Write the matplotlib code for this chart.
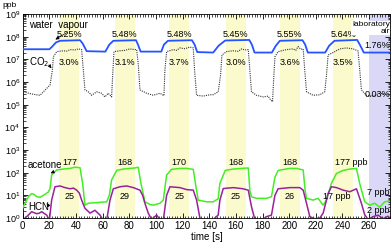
import matplotlib
matplotlib.use('Agg')
import matplotlib.pyplot as plt
from matplotlib.ticker import MultipleLocator, FixedLocator, NullFormatter

plt.rcParams['font.family'] = ['Liberation Sans', 'DejaVu Sans']
plt.rcParams['font.size'] = 7

# ---- data (time in s, concentrations in ppb) ----
water_t = [0, 20, 22, 25, 28, 43, 45, 48, 62, 65, 68, 85, 86.5, 88.5, 104, 106, 109, 127, 129, 131,
           143, 147, 152, 170, 172, 174, 187, 190, 193, 210, 212, 214, 227, 230, 234, 251, 253, 256, 277]
water_v = [2.8e7, 2.8e7, 3.6e7, 5.6e7, 6.6e7, 7.0e7, 5.0e7, 2.3e7, 2.2e7, 4.5e7, 6.6e7, 7.0e7, 4.5e7, 2.2e7,
           2.2e7, 4.5e7, 6.6e7, 7.0e7, 4.5e7, 2.1e7, 2.0e7, 4.0e7, 6.8e7, 7.2e7, 4.5e7, 2.0e7, 2.0e7, 4.0e7,
           6.6e7, 7.0e7, 4.5e7, 2.0e7, 2.0e7, 4.0e7, 6.6e7, 7.2e7, 4.5e7, 2.0e7, 2.0e7]

co2_t = [0.5, 5.5, 9.2, 13, 16.7, 20.5, 22.2, 23, 25.5, 30.5, 33, 35.5, 39.2, 41.7, 44.2, 45.5, 46.7,
         49.2, 51.7, 55.5, 59.2, 61.7, 64.2, 66.7, 67.5, 68.5, 73, 76.7, 80.5, 83, 85.5, 86.7, 88,
         93, 98, 103, 106, 106.7, 108, 113, 115.5, 118, 121.7, 125.5, 128, 129, 130.5,
         135.5, 140.5, 143, 146.7, 148.5, 149.5, 153, 158, 161.7, 164.3, 166.7, 169.3, 170.5, 171.7,
         175.5, 180.5, 184.2, 185.5, 187.5, 188.5, 189.3, 191.7, 198, 203, 205, 206.7, 208.7, 210.5, 211.7, 213,
         218, 223, 226.7, 228, 229.2, 233, 238, 243, 248, 251.7, 253, 254.2,
         258, 263, 268, 273, 276.7]
co2_v = [3.7e5, 3.1e5, 2.8e5, 2.6e5, 4.4e5, 7.4e5, 3.2e6, 1.3e7, 2.2e7, 2.4e7, 2.3e7, 2.7e7, 2.6e7, 2.9e7, 2.7e7, 3.2e6, 4.5e5,
         3.7e5, 2.6e5, 3.7e5, 3.2e5, 2.2e5, 3.2e5, 2.2e5, 2.0e6, 2.2e7, 2.4e7, 2.5e7, 2.9e7, 2.75e7, 2.7e7, 6.3e6, 4.5e5,
         3.2e5, 2.6e5, 3.2e5, 2.5e5, 3.2e6, 2.2e7, 2.7e7, 2.5e7, 3.2e7, 2.95e7, 3.5e7, 3.2e7, 3.2e6, 2.6e5,
         2.4e5, 2.75e5, 2.75e5, 3.7e5, 2.0e6, 1.55e7, 2.2e7, 2.4e7, 2.25e7, 2.9e7, 2.6e7, 2.7e7, 3.2e6, 3.7e5,
         2.6e5, 2.2e5, 2.4e5, 1.8e5, 1.35e5, 2.0e6, 1.3e7, 2.2e7, 2.7e7, 2.9e7, 2.5e7, 3.7e7, 2.8e7, 2.9e7, 3.2e6, 3.7e5,
         2.6e5, 2.75e5, 3.7e5, 2.0e6, 1.55e7, 2.0e7, 2.9e7, 3.2e7, 2.9e7, 2.35e7, 3.2e6, 4.5e5,
         2.6e5, 2.4e5, 3.2e5, 2.8e5, 2.6e5]

acetone_t = [0, 4.2, 6.7, 8.5, 10.5, 13, 15.5, 19.2, 20.5, 21.7, 25.5, 30.5, 35.5, 39.2, 43, 45, 46.7,
             49.2, 55.5, 59.2, 63, 65, 66.7, 70.5, 75.5, 80.5, 84.2, 86.7, 88.5, 91.7,
             95.5, 98, 103, 105.5, 108, 111.7, 118, 123, 128, 129.7, 131.7,
             138, 143, 146.7, 148, 152, 158, 164.3, 169.3, 170.5, 171.7,
             175.5, 183, 186.7, 189.3, 191.7, 200.5, 205.5, 210.5, 212, 213,
             218, 221.7, 225.5, 228, 231.7, 235.5, 240.5, 245.5, 250.5, 253, 256.7,
             260.5, 264.2, 268, 271.7, 276.7]
acetone_v = [2.8, 8.7, 12, 11, 8.7, 8.3, 10, 14, 20, 79, 132, 145, 155, 174, 166, 32, 3.7,
             4.5, 4.8, 5.0, 5.2, 10, 48, 126, 145, 155, 162, 174, 40, 5.2,
             4.0, 3.7, 4.5, 6.2, 79, 141, 155, 155, 141, 32, 6.2,
             5.2, 5.2, 7.1, 34, 126, 145, 155, 162, 16, 8.7,
             7.4, 7.4, 8.7, 63, 126, 155, 155, 132, 16, 7.4,
             6.2, 7.4, 3.7, 6.2, 34, 93, 126, 145, 155, 32, 5.2,
             3.7, 4.5, 3.0, 5.2, 5.8]

hcn_t = [0, 4.2, 6.7, 10.5, 12.5, 14.2, 18, 20, 21.7, 24.2, 28, 31.7, 35.5, 38, 40.5, 42.5, 44.2, 46.7,
         50.5, 54.2, 58, 60.5, 63, 65.5, 68, 73, 78, 83, 88, 90, 91.7, 94.2, 96.7,
         100.5, 103, 105.5, 108, 110.5, 118, 123, 128, 130.5, 133, 136,
         143, 146.7, 148, 150.5, 158, 165.5, 169.3, 171.7, 174.2, 179.2, 183, 186.7, 189.3, 191.7,
         200.5, 208, 210.5, 213, 215.5, 219.2, 223, 225.5, 229.2, 231.7, 235.5, 240.5, 245.5, 250.5,
         254.2, 256.7, 259.2, 263, 266.7, 270.5, 274.2, 276.7]
hcn_v = [0.8, 1.35, 1.9, 1.55, 1.65, 1.9, 1.35, 0.8, 6.2, 24, 26, 22, 19.5, 21, 17, 12.6, 6.2, 2.7,
         1.65, 2.2, 1.35, 0.8, 0.8, 6.2, 19.5, 24, 26, 22, 17, 10, 4.5, 1.65, 0.87,
         1.35, 0.87, 0.8, 10, 24, 22, 18, 17, 6.2, 1.0, 0.8,
         0.87, 1.35, 6.2, 20, 22, 19.5, 17, 3.2, 0.87, 0.8, 1.15, 1.35, 10, 19.5,
         22, 22, 17, 4.5, 1.15, 0.93, 1.0, 1.65, 12, 24, 22, 17, 14.5, 19.5,
         4.5, 1.4, 0.87, 1.15, 1.35, 0.93, 1.2, 0.87]

breath_start = [27.5, 69, 110, 152.5, 193, 233]
breath_width = 15
lab_start = 260

water_labels = ['5.25%', '5.48%', '5.48%', '5.45%', '5.55%', '5.64%']
co2_labels = ['3.0%', '3.1%', '3.7%', '3.0%', '3.6%', '3.5%']
acetone_labels = ['177', '168', '170', '168', '168', '177 ppb']
hcn_labels = ['25', '29', '25', '25', '26', '17 ppb']
decades = [10.0 ** k for k in range(10)]
decade_minors = [m * d for d in decades[:-1] for m in range(2, 10)]

fig = plt.figure(figsize=(3.92, 2.42), dpi=100)
ax = fig.add_axes([0.058, 0.099, 0.938, 0.843])

for s in breath_start:
    ax.axvspan(s, s + breath_width, color='#fafacd', lw=0, zorder=0)
ax.axvspan(lab_start, 277, color='#d9d9f7', lw=0, zorder=0)

ax.plot(water_t, water_v, color='#2454ff', lw=1.3, zorder=3)
ax.plot(co2_t, co2_v, color='#333333', lw=0.8, ls=(0, (1, 1)), zorder=3)
ax.plot(acetone_t, acetone_v, color='#44ee22', lw=1.1, zorder=3)
ax.plot(hcn_t, hcn_v, color='#992299', lw=1.1, zorder=3)

ax.set_yscale('log')
ax.set_xlim(0, 276)
ax.set_ylim(1, 1e9)
ax.set_yticks(decades)
ax.yaxis.set_minor_locator(FixedLocator(decade_minors))
ax.yaxis.set_minor_formatter(NullFormatter())
ax.xaxis.set_major_locator(MultipleLocator(20))
ax.xaxis.set_minor_locator(MultipleLocator(2))
ax.tick_params(which='both', direction='in', top=True, right=True, labelsize=7, pad=2)
ax.tick_params(axis='y', labelsize=6.5)
ax.tick_params(which='major', length=3.5, width=0.6)
ax.tick_params(which='minor', length=1.8, width=0.5)
for sp in ax.spines.values():
    sp.set_linewidth(0.6)
ax.set_xlabel('time [s]', fontsize=7, labelpad=1)
fig.text(0.005, 0.99, 'ppb', fontsize=6, va='top', ha='left')

for i, s in enumerate(breath_start):
    c = s + breath_width / 2
    ax.text(c, 1.2e8, water_labels[i], ha='center', va='center', fontsize=6.5)
    ax.text(c, 7.6e6, co2_labels[i], ha='center', va='center', fontsize=6.5)
    if i < 5:
        ax.text(c, 270, acetone_labels[i], ha='center', va='center', fontsize=6.5)
        ax.text(c, 9.3, hcn_labels[i], ha='center', va='center', fontsize=6.5)
ax.text(259, 270, acetone_labels[5], ha='right', va='center', fontsize=6.5)
ax.text(246, 9.0, hcn_labels[5], ha='right', va='center', fontsize=6.5)

ax.text(275.5, 2.4e8, 'laboratory\nair', ha='right', va='center', fontsize=6,
        linespacing=0.95, bbox=dict(facecolor='white', edgecolor='none', pad=0.3), zorder=4)
ax.text(275.5, 4.3e7, '1.76%', ha='right', va='center', fontsize=6.5, zorder=4)
ax.text(275.5, 2.7e5, '0.03%', ha='right', va='center', fontsize=6.5, zorder=4)
ax.text(275.5, 14, '7 ppb', ha='right', va='center', fontsize=6.5, zorder=4)
ax.text(275.5, 2.2, '2 ppb', ha='right', va='center', fontsize=6.5, zorder=4)

arrow = dict(arrowstyle='-|>', lw=0.5, color='black', mutation_scale=5, shrinkA=0, shrinkB=0)
ax.annotate('water  vapour', xy=(24.5, 7.5e7), xytext=(4.5, 3.3e8), fontsize=7,
            va='center', ha='left', arrowprops=dict(arrow, relpos=(0.72, 0)))
ax.annotate('CO$_2$', xy=(21.5, 4.0e6), xytext=(4.5, 7.6e6), fontsize=7,
            va='center', ha='left', arrowprops=dict(arrow, relpos=(1, 0.3)))
ax.annotate('acetone', xy=(21, 95), xytext=(4, 220), fontsize=7,
            va='center', ha='left', arrowprops=dict(arrow, relpos=(0.85, 0)))
ax.annotate('HCN', xy=(18, 4.6), xytext=(4, 3.2), fontsize=7,
            va='center', ha='left', arrowprops=dict(arrow, relpos=(1, 0.5)))

fig.savefig('out.png', dpi=100)
